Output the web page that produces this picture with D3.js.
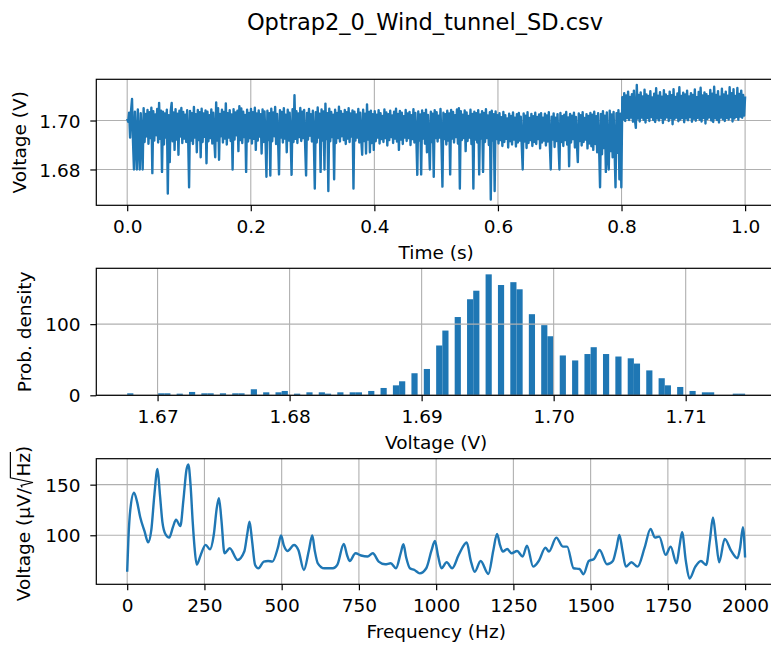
<!DOCTYPE html>
<html>
<head>
<meta charset="utf-8">
<script src="https://cdn.jsdelivr.net/npm/d3@7"></script>
<style>
  html, body { margin: 0; padding: 0; background: #ffffff; }
  svg { display: block; font-family: "DejaVu Sans", sans-serif; }
</style>
</head>
<body>
<svg id="chart" width="771" height="646"></svg>
<script>
// ---------------- data ----------------
const figureTitle = "Optrap2_0_Wind_tunnel_SD.csv";

// Recording length in seconds; samples are evenly spaced over it.
const recordDuration = 1.0;

// Sensor output (V)
const voltage = [
  1.7008, 1.6995, 1.7032, 1.6930, 1.7041, 1.7088, 1.6915, 1.6800, 1.7036, 1.6920, 1.6800, 1.7045, 1.6908, 1.6800, 1.7030, 1.6932,
  1.6800, 1.7050, 1.6912, 1.7027, 1.6935, 1.7043, 1.6905, 1.7034, 1.6928, 1.7052, 1.6785, 1.7038, 1.6918, 1.7025, 1.6940, 1.7047,
  1.6910, 1.7072, 1.6925, 1.7040, 1.6790, 1.7036, 1.6902, 1.7029, 1.6930, 1.7044, 1.6702, 1.7022, 1.6830, 1.7038, 1.7072, 1.6915,
  1.7033, 1.6880, 1.7046, 1.6922, 1.7028, 1.6860, 1.7040, 1.6935, 1.7051, 1.6908, 1.7035, 1.6926, 1.7024, 1.6912, 1.7042, 1.6938,
  1.6727, 1.7039, 1.6918, 1.7030, 1.6904, 1.7055, 1.6930, 1.7026, 1.6870, 1.7043, 1.6920, 1.7034, 1.6850, 1.7048, 1.6912, 1.7029,
  1.6933, 1.7041, 1.6825, 1.7036, 1.6915, 1.7022, 1.6928, 1.7045, 1.6906, 1.7032, 1.6924, 1.6850, 1.7074, 1.6918, 1.7050, 1.6840,
  1.7027, 1.6936, 1.7044, 1.6910, 1.7035, 1.6926, 1.7070, 1.6902, 1.7030, 1.6930, 1.7042, 1.6916, 1.7025, 1.6800, 1.7046, 1.6922,
  1.7033, 1.6940, 1.7040, 1.6875, 1.7058, 1.6920, 1.7049, 1.6908, 1.7036, 1.6932, 1.7023, 1.6790, 1.7044, 1.6914, 1.7031, 1.6928,
  1.7047, 1.6906, 1.7034, 1.6925, 1.7052, 1.6880, 1.7029, 1.6918, 1.7041, 1.6934, 1.7026, 1.6865, 1.7045, 1.6912, 1.7037, 1.6928,
  1.6770, 1.7040, 1.6920, 1.7030, 1.6775, 1.7048, 1.6915, 1.7033, 1.6936, 1.7055, 1.6904, 1.7027, 1.6924, 1.6780, 1.7042, 1.6930,
  1.7035, 1.6910, 1.7050, 1.6926, 1.7024, 1.6870, 1.7044, 1.6918, 1.7032, 1.6934, 1.6778, 1.7046, 1.6912, 1.7103, 1.6925, 1.7038,
  1.6908, 1.7029, 1.6932, 1.7051, 1.6916, 1.7036, 1.6928, 1.7043, 1.6902, 1.6775, 1.7031, 1.6922, 1.7047, 1.6938, 1.7026, 1.6914,
  1.7040, 1.6926, 1.6722, 1.7034, 1.6910, 1.7053, 1.6930, 1.7028, 1.6790, 1.7045, 1.6918, 1.7037, 1.6800, 1.7069, 1.6924, 1.7030,
  1.6712, 1.7048, 1.6915, 1.7035, 1.6932, 1.7024, 1.6760, 1.7044, 1.6908, 1.7031, 1.6928, 1.7056, 1.6914, 1.7038, 1.6936, 1.7027,
  1.6920, 1.7043, 1.6904, 1.7034, 1.6926, 1.7050, 1.6912, 1.7029, 1.6934, 1.7041, 1.6722, 1.7036, 1.6918, 1.7025, 1.6930, 1.7047,
  1.6910, 1.7032, 1.6925, 1.6860, 1.7044, 1.6916, 1.7028, 1.6865, 1.7066, 1.6922, 1.7035, 1.6870, 1.7040, 1.6908, 1.7026, 1.6880,
  1.7038, 1.6915, 1.7024, 1.6930, 1.7042, 1.6906, 1.7030, 1.6924, 1.7019, 1.6912, 1.7045, 1.6928, 1.7033, 1.6898, 1.7026, 1.6920,
  1.7040, 1.6932, 1.7021, 1.6908, 1.7036, 1.6926, 1.7048, 1.6914, 1.7027, 1.6880, 1.7039, 1.6922, 1.7032, 1.6904, 1.7018, 1.6930,
  1.7043, 1.6916, 1.7029, 1.6928, 1.7035, 1.6900, 1.7022, 1.6924, 1.7046, 1.6910, 1.7031, 1.6932, 1.6778, 1.7037, 1.6918, 1.7025,
  1.6780, 1.7041, 1.6926, 1.7030, 1.6905, 1.7044, 1.6870, 1.7023, 1.6920, 1.6800, 1.7036, 1.6912, 1.7028, 1.6770, 1.7042, 1.6928,
  1.7034, 1.6914, 1.7020, 1.6930, 1.7047, 1.6908, 1.6730, 1.7032, 1.6924, 1.7026, 1.6902, 1.7040, 1.6918, 1.7029, 1.6780, 1.7043,
  1.6926, 1.7035, 1.6910, 1.7022, 1.6932, 1.7045, 1.6906, 1.7050, 1.6722, 1.7038, 1.6920, 1.7024, 1.6928, 1.7041, 1.6875, 1.7033,
  1.6916, 1.7019, 1.6930, 1.7044, 1.6904, 1.7027, 1.6722, 1.7036, 1.6922, 1.7030, 1.6910, 1.7042, 1.6780, 1.7025, 1.6926, 1.7038,
  1.6790, 1.7031, 1.6912, 1.7046, 1.6928, 1.7021, 1.6900, 1.7034, 1.6677, 1.7040, 1.6918, 1.7026, 1.6712, 1.7037, 1.6924, 1.7022,
  1.6906, 1.7030, 1.6920, 1.7014, 1.6896, 1.7035, 1.6912, 1.7022, 1.6925, 1.7008, 1.6890, 1.7028, 1.6915, 1.7019, 1.6902, 1.7033,
  1.6922, 1.7012, 1.6894, 1.7026, 1.6910, 1.7031, 1.6918, 1.7016, 1.6900, 1.6800, 1.7029, 1.6914, 1.7020, 1.6888, 1.7034, 1.6908,
  1.7010, 1.6920, 1.7027, 1.6896, 1.7018, 1.6912, 1.7032, 1.6904, 1.7015, 1.6924, 1.7025, 1.6886, 1.7030, 1.6910, 1.7012, 1.6918,
  1.7028, 1.6898, 1.7021, 1.6914, 1.7034, 1.6906, 1.6800, 1.7016, 1.6922, 1.7029, 1.6892, 1.7011, 1.6916, 1.7026, 1.6904, 1.6800,
  1.7031, 1.6912, 1.7018, 1.6896, 1.7024, 1.6920, 1.7035, 1.6902, 1.7013, 1.6813, 1.7027, 1.6910, 1.7020, 1.6924, 1.7032, 1.6890,
  1.7015, 1.6908, 1.6830, 1.7029, 1.6916, 1.7022, 1.6898, 1.7034, 1.6912, 1.7010, 1.6922, 1.7026, 1.6886, 1.7019, 1.6906, 1.7031,
  1.6895, 1.7024, 1.6880, 1.7036, 1.6904, 1.7018, 1.6870, 1.7030, 1.6892, 1.6727, 1.7027, 1.6862, 1.7038, 1.6888, 1.7020, 1.6790,
  1.7033, 1.6858, 1.6800, 1.7040, 1.6875, 1.7025, 1.6850, 1.7035, 1.6880, 1.6727, 1.7030, 1.6868, 1.7042, 1.6760, 1.7028, 1.6727,
  1.7095, 1.7004, 1.7112, 1.6998, 1.7102, 1.7010, 1.7118, 1.7002, 1.7096, 1.7012, 1.7108, 1.6995, 1.7122, 1.7006, 1.6970, 1.7145,
  1.7008, 1.7104, 1.6996, 1.7115, 1.7012, 1.7098, 1.7003, 1.7126, 1.6992, 1.7106, 1.7010, 1.7100, 1.6998, 1.7120, 1.7014, 1.7094,
  1.7002, 1.7110, 1.6994, 1.7132, 1.7008, 1.7101, 1.7000, 1.7116, 1.7011, 1.7097, 1.6990, 1.7124, 1.7005, 1.7107, 1.7013, 1.7099,
  1.6998, 1.7118, 1.7009, 1.7103, 1.6985, 1.7128, 1.7006, 1.7096, 1.7012, 1.7111, 1.6997, 1.7136, 1.7004, 1.7100, 1.7010, 1.7114,
  1.6993, 1.7106, 1.7008, 1.7122, 1.7001, 1.7098, 1.7014, 1.7112, 1.6995, 1.7104, 1.7007, 1.7127, 1.6999, 1.7095, 1.7011, 1.7117,
  1.7003, 1.7134, 1.6996, 1.7102, 1.7010, 1.7115, 1.6988, 1.7108, 1.7006, 1.7099, 1.7013, 1.7125, 1.7000, 1.7110, 1.6994, 1.7138,
  1.7009, 1.7104, 1.7002, 1.7120, 1.6992, 1.7097, 1.7012, 1.7130, 1.7005, 1.7106, 1.6998, 1.7118, 1.7010, 1.7101, 1.7004, 1.7136,
  1.7014, 1.7112, 1.6996, 1.7128, 1.7008, 1.7100, 1.7015, 1.7133, 1.7003, 1.7109, 1.7016, 1.7122, 1.7011, 1.7104, 1.7020, 1.7098
];

// Histogram of the voltage record: equal-width bins between its min and max
const histBinCount = 100;
const histDensity = [
  2.8, 0, 0, 0, 0, 2.8, 2.8, 0, 2.3, 0,
  4.7, 0, 2.8, 2.8, 0, 2.8, 0, 2.8, 2.8, 0,
  8.5, 0, 4.2, 0, 4.2, 6.1, 0, 2.3, 0, 4.2,
  0, 4.2, 2.3, 0, 4.2, 0, 4.2, 4.2, 0, 6.1,
  0, 10.3, 0, 14, 19.7, 0, 31, 0, 37, 0,
  70, 91, 0, 110, 0, 135, 147, 0, 170, 0,
  155, 0, 159, 149, 0, 114, 0, 98.6, 83, 0,
  56, 0, 49, 0, 58, 67.6, 0, 58, 0, 54.5,
  0, 52, 44.6, 0, 35, 0, 24, 14, 0, 11.7,
  0, 6.1, 0, 4.2, 4.2, 0, 0, 0, 2.3, 2.3
];

// Amplitude spectrum (µV/√Hz)
const spectrumFreq = [
  0, 4, 10, 22, 32, 42, 56, 68, 78, 88, 98, 106, 114, 124, 136, 148, 158, 172, 182, 192,
  198, 205, 212, 218, 225, 238, 254, 268, 280, 290, 297, 305, 315, 332, 357, 379, 388, 396, 404, 414,
  425, 442, 456, 470, 488, 498, 507, 519, 540, 554, 572, 588, 599, 607, 617, 638, 666, 680, 701, 712,
  720, 739, 757, 778, 795, 814, 835, 853, 870, 885, 894, 903, 915, 930, 947, 968, 985, 996, 1006, 1017,
  1034, 1052, 1073, 1099, 1112, 1125, 1144, 1169, 1185, 1197, 1207, 1216, 1230, 1244, 1262, 1280, 1294, 1314, 1332, 1354,
  1365, 1389, 1410, 1424, 1445, 1464, 1477, 1494, 1511, 1529, 1553, 1572, 1584, 1593, 1603, 1614, 1632, 1652, 1675, 1694,
  1708, 1722, 1743, 1759, 1778, 1788, 1796, 1808, 1820, 1839, 1857, 1874, 1886, 1896, 1906, 1916, 1934, 1955, 1975, 1984,
  1993, 2000
];
const spectrumAmp = [
  64, 97, 125, 142, 133, 118, 104, 93, 105, 140, 165.5, 140, 113, 101, 97.7, 108, 115.5, 109, 135, 165,
  170, 150, 113.5, 88, 71, 80.6, 90.5, 86.2, 100, 127, 136.6, 115, 82.2, 87.2, 75.6, 84, 100, 113.5, 95, 70.7,
  67.4, 74, 74.6, 74, 88, 99.7, 90, 84.5, 90.4, 85.5, 65.7, 85, 99.7, 85, 72.3, 67.4, 67.4, 70.7, 91.4, 80,
  74.6, 82.2, 80, 79, 82.2, 74, 71.3, 72.3, 67.4, 82, 91.1, 78, 67.4, 65.7, 62.4, 67.4, 85, 94.4, 80, 67.4,
  73.3, 67.4, 80.6, 92.8, 75, 64, 74.6, 61.8, 85, 101.3, 90, 83.9, 86.5, 82.2, 84.5, 79, 89.8, 69, 74.6, 87.8,
  83.9, 97.7, 88.8, 88.8, 67.4, 66.7, 61.5, 74.6, 76.6, 85.5, 71.3, 74.6, 88, 100.3, 85, 69, 73.3, 69, 88, 106.3,
  97.7, 98.7, 80.6, 88.8, 72.3, 90, 103, 75, 57.2, 69, 74.6, 70.7, 95, 117.5, 95, 73.3, 96.4, 84.5, 77.3, 88,
  107.9, 78
];

// Tick values
const timeTicks = [0, 0.2, 0.4, 0.6, 0.8, 1.0];
const voltageTicks = [1.68, 1.70];
const histVoltageTicks = [1.67, 1.68, 1.69, 1.70, 1.71];
const densityTicks = [0, 100];
const freqTicks = [0, 250, 500, 750, 1000, 1250, 1500, 1750, 2000];
const ampTicks = [100, 150];

// ---------------- layout ----------------
const blue = "#1f77b4";
const fontSize = 18.5;
const plotLeft = 96.3, plotRight = 776;
const panels = [
  { top: 79.3,  bottom: 205.3 },
  { top: 268.3, bottom: 395.3 },
  { top: 458.7, bottom: 584.3 }
];

const svg = d3.select("#chart");

// 5% autoscale margins on both ends
function padded(ext) {
  const r = ext[1] - ext[0];
  return [ext[0] - 0.05 * r, ext[1] + 0.05 * r];
}

function clipFor(id, p) {
  svg.append("clipPath").attr("id", id)
    .append("rect")
    .attr("x", plotLeft).attr("y", p.top)
    .attr("width", plotRight - plotLeft).attr("height", p.bottom - p.top);
  return "url(#" + id + ")";
}

function drawGrid(g, p, x, y, xTicks, yTicks) {
  const grid = g.append("g").attr("stroke", "#b0b0b0").attr("stroke-width", 1.1);
  grid.selectAll("line.vx").data(xTicks).join("line")
    .attr("x1", d => x(d)).attr("x2", d => x(d))
    .attr("y1", p.top).attr("y2", p.bottom);
  grid.selectAll("line.hy").data(yTicks).join("line")
    .attr("x1", plotLeft).attr("x2", plotRight)
    .attr("y1", d => y(d)).attr("y2", d => y(d));
}

function drawAxes(g, p, x, y, xTicks, yTicks, fx, fy) {
  const ax = g.append("g")
    .attr("transform", `translate(0,${p.bottom})`)
    .call(d3.axisBottom(x).tickValues(xTicks).tickFormat(fx).tickSize(6).tickPadding(8.9));
  const ay = g.append("g")
    .attr("transform", `translate(${plotLeft},0)`)
    .call(d3.axisLeft(y).tickValues(yTicks).tickFormat(fy).tickSize(6).tickPadding(9.8));
  [ax, ay].forEach(a => {
    a.select(".domain").remove();
    a.selectAll(".tick line").attr("stroke", "#000").attr("stroke-width", 1.2);
    a.selectAll(".tick text")
      .attr("fill", "#000")
      .style("font-family", "DejaVu Sans, sans-serif")
      .style("font-size", fontSize + "px");
  });
  ay.selectAll(".tick text").attr("dy", "0.36em");
  // frame
  g.append("rect")
    .attr("x", plotLeft).attr("y", p.top)
    .attr("width", plotRight - plotLeft).attr("height", p.bottom - p.top)
    .attr("fill", "none").attr("stroke", "#000").attr("stroke-width", 1.2);
}

function xLabel(text, p) {
  svg.append("text")
    .attr("x", (plotLeft + plotRight) / 2)
    .attr("y", p.bottom + 53.2)
    .attr("text-anchor", "middle")
    .attr("font-size", fontSize)
    .attr("fill", "#000")
    .text(text);
}

function yLabel(text, p, bx) {
  svg.append("text")
    .attr("transform", `translate(${bx},${(p.top + p.bottom) / 2}) rotate(-90)`)
    .attr("text-anchor", "middle")
    .attr("font-size", fontSize)
    .attr("fill", "#000")
    .text(text);
}

// ---------------- title ----------------
svg.append("text")
  .attr("x", 425).attr("y", 30)
  .attr("text-anchor", "middle")
  .attr("font-size", 22.5)
  .attr("fill", "#000")
  .text(figureTitle);

// ---------------- panel 1: time record ----------------
{
  const p = panels[0];
  const times = voltage.map((_, i) => i * recordDuration / (voltage.length - 1));
  const x = d3.scaleLinear().domain(padded([0, recordDuration])).range([plotLeft, plotRight]);
  const y = d3.scaleLinear().domain(padded(d3.extent(voltage))).range([p.bottom, p.top]);
  const g = svg.append("g");
  drawGrid(g, p, x, y, timeTicks, voltageTicks);
  g.append("path")
    .attr("clip-path", clipFor("clipTime", p))
    .attr("d", d3.line().x((d, i) => x(times[i])).y(d => y(d))(voltage))
    .attr("fill", "none")
    .attr("stroke", blue)
    .attr("stroke-width", 2.4)
    .attr("stroke-linejoin", "round");
  drawAxes(g, p, x, y, timeTicks, voltageTicks, d3.format(".1f"), d3.format(".2f"));
  xLabel("Time (s)", p);
  yLabel("Voltage (V)", p, 25.5);
}

// ---------------- panel 2: histogram ----------------
{
  const p = panels[1];
  const ext = d3.extent(voltage);
  const binW = (ext[1] - ext[0]) / histBinCount;
  const bins = histDensity.map((d, i) => ({ x0: ext[0] + i * binW, x1: ext[0] + (i + 1) * binW, value: d }));
  const x = d3.scaleLinear().domain(padded(ext)).range([plotLeft, plotRight]);
  const y = d3.scaleLinear().domain([0, d3.max(histDensity) * 1.05]).range([p.bottom, p.top]);
  const g = svg.append("g");
  g.append("g").attr("clip-path", clipFor("clipHist", p))
    .selectAll("rect").data(bins.filter(b => b.value > 0)).join("rect")
    .attr("x", b => x(b.x0))
    .attr("width", b => x(b.x1) - x(b.x0))
    .attr("y", b => y(b.value))
    .attr("height", b => y(0) - y(b.value))
    .attr("fill", blue);
  drawGrid(g, p, x, y, histVoltageTicks, densityTicks);
  drawAxes(g, p, x, y, histVoltageTicks, densityTicks, d3.format(".2f"), d3.format("d"));
  xLabel("Voltage (V)", p);
  yLabel("Prob. density", p, 31);
}

// ---------------- panel 3: spectrum ----------------
{
  const p = panels[2];
  const x = d3.scaleLinear().domain(padded(d3.extent(spectrumFreq))).range([plotLeft, plotRight]);
  const y = d3.scaleLinear().domain(padded(d3.extent(spectrumAmp))).range([p.bottom, p.top]);
  const g = svg.append("g");
  drawGrid(g, p, x, y, freqTicks, ampTicks);
  g.append("path")
    .attr("clip-path", clipFor("clipSpec", p))
    .attr("d", d3.line().x((d, i) => x(spectrumFreq[i])).y(d => y(d)).curve(d3.curveMonotoneX)(spectrumAmp))
    .attr("fill", "none")
    .attr("stroke", blue)
    .attr("stroke-width", 2.4)
    .attr("stroke-linejoin", "round");
  drawAxes(g, p, x, y, freqTicks, ampTicks, d3.format("d"), d3.format("d"));
  xLabel("Frequency (Hz)", p);

  // y label with a drawn radical: Voltage (µV/√Hz)
  const lab = svg.append("g")
    .attr("transform", `translate(30,${(p.top + p.bottom) / 2 + 2}) rotate(-90)`)
    .attr("font-size", fontSize)
    .attr("fill", "#000");
  const measure = s => {
    const t = lab.append("text").text(s);
    const w = t.node().getComputedTextLength();
    t.remove();
    return w;
  };
  const em = fontSize;
  const partA = "Voltage (\u03bcV/", partB = "Hz", partC = ")";
  const wA = measure(partA), wB = measure(partB), wC = measure(partC);
  const wRad = 0.62 * em;
  const total = wA + wRad + wB + wC;
  let cx = -total / 2;
  lab.append("text").attr("x", cx).text(partA);
  cx += wA;
  const r0 = cx;
  cx += wRad;
  lab.append("text").attr("x", cx).text(partB);
  const hzEnd = cx + wB;
  lab.append("path")
    .attr("d", `M${r0 + 0.04 * em},${-0.42 * em} L${r0 + 0.14 * em},${-0.48 * em} L${r0 + 0.3 * em},${0.16 * em} L${r0 + 0.56 * em},${-1.06 * em} L${hzEnd + 0.05 * em},${-1.06 * em}`)
    .attr("fill", "none").attr("stroke", "#000").attr("stroke-width", 1.2);
  cx = hzEnd;
  lab.append("text").attr("x", cx).text(partC);
}
</script>
</body>
</html>
